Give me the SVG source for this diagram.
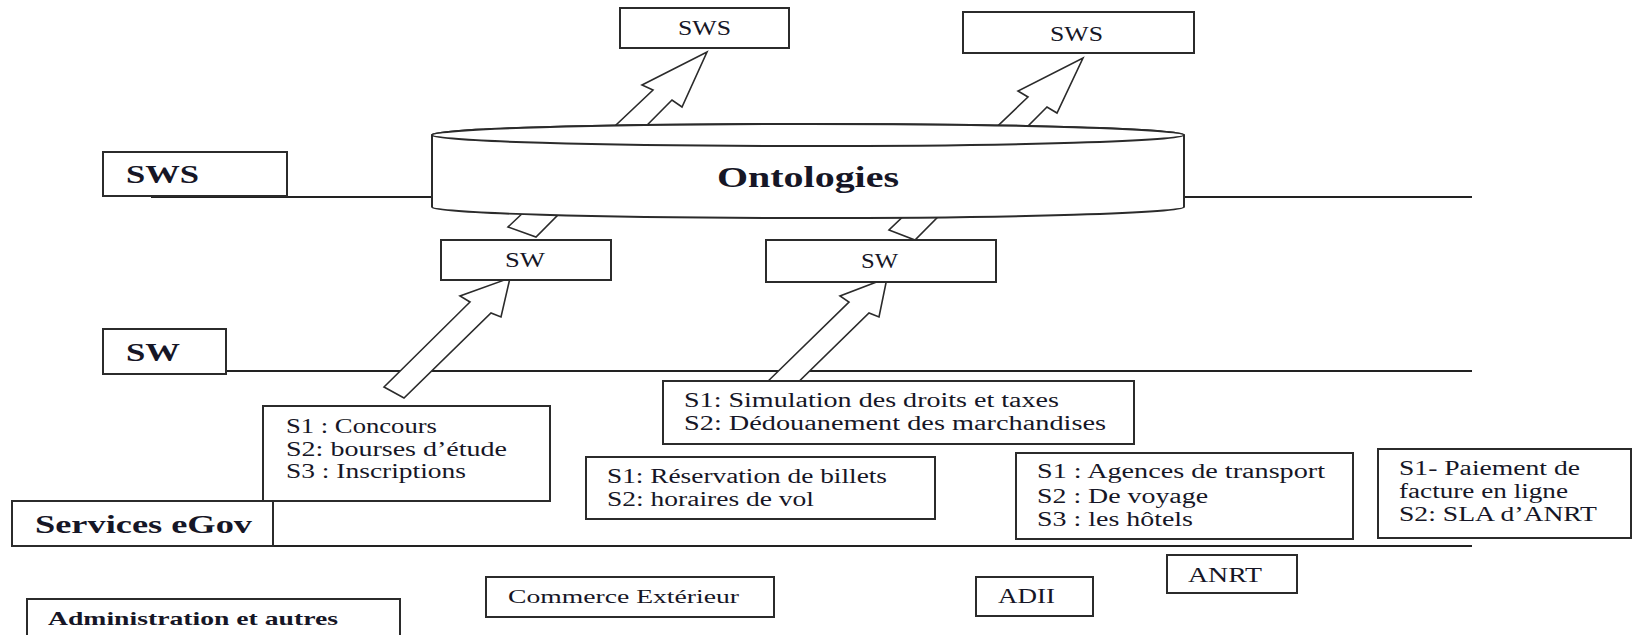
<svg xmlns="http://www.w3.org/2000/svg" width="1632" height="635" viewBox="0 0 1632 635">
  <style>
    .box { fill: #ffffff; stroke: #2b2b2b; stroke-width: 2; }
    .layer { stroke: #222222; stroke-width: 2; fill: none; }
    .arrow { fill: #ffffff; stroke: #2b2b2b; stroke-width: 1.6; stroke-linejoin: miter; }
    .cyl { fill: #ffffff; stroke: #2b2b2b; stroke-width: 2; }
    text { font-family: "Liberation Serif", "Times New Roman", serif; fill: #161626; }
    .t { font-size: 20.5px; }
    .b { font-weight: bold; }
  </style>

  <!-- horizontal layer separators -->
  <g id="layers">
    <line class="layer" x1="151" y1="197" x2="1472" y2="197"/>
    <line class="layer" x1="226" y1="371" x2="1472" y2="371"/>
    <line class="layer" x1="273" y1="546" x2="1472" y2="546"/>
  </g>

  <!-- block arrows -->
  <g id="connectors">
    <polygon id="a-sw1-sws1" class="arrow" points="508,227 536,237 672,100 682,107 707,52 642,85 653,90"/>
    <polygon id="a-sw2-sws2" class="arrow" points="889,230 915,240 1047,107 1057,113 1083,58 1018,91 1028,97"/>
    <polygon id="a-edu-sw1" class="arrow" points="384,387 404,398 491,313 501,317 510,278 460,296 470,302"/>
    <polygon id="a-douane-sw2" class="arrow" points="762,387 782,398 869,313 879,317 887,278 840,296 849,302"/>
  </g>

  <!-- ontology store -->
  <g id="ontologies">
    <path class="cyl" d="M432,135 L432,207 A376,11 0 0 0 1184,207 L1184,135 A376,11 0 0 0 432,135 Z"/>
    <ellipse class="cyl" cx="808" cy="135" rx="376" ry="11"/>
    <text x="717" y="187" font-size="29" class="b" textLength="182" lengthAdjust="spacingAndGlyphs">Ontologies</text>
  </g>

  <!-- layer labels -->
  <g id="label-sws">
    <rect class="box" x="103" y="152" width="184" height="44"/>
    <text x="126" y="183" font-size="25" class="b" textLength="73" lengthAdjust="spacingAndGlyphs">SWS</text>
  </g>
  <g id="label-sw">
    <rect class="box" x="103" y="329" width="123" height="45"/>
    <text x="126" y="361" font-size="25" class="b" textLength="54" lengthAdjust="spacingAndGlyphs">SW</text>
  </g>
  <g id="label-egov">
    <rect class="box" x="12" y="501" width="261" height="45"/>
    <text x="35" y="533" font-size="26" class="b" textLength="217" lengthAdjust="spacingAndGlyphs">Services eGov</text>
  </g>
  <g id="label-admin">
    <rect class="box" x="27" y="599" width="373" height="45"/>
    <text x="48" y="625" font-size="19" class="b" textLength="290" lengthAdjust="spacingAndGlyphs">Administration et autres</text>
  </g>

  <!-- semantic web services -->
  <g id="sws-1">
    <rect class="box" x="620" y="8" width="169" height="40"/>
    <text x="678" y="35" class="t" textLength="53" lengthAdjust="spacingAndGlyphs">SWS</text>
  </g>
  <g id="sws-2">
    <rect class="box" x="963" y="12" width="231" height="41"/>
    <text x="1050" y="41" class="t" textLength="53" lengthAdjust="spacingAndGlyphs">SWS</text>
  </g>

  <!-- web services -->
  <g id="sw-1">
    <rect class="box" x="441" y="240" width="170" height="40"/>
    <text x="505" y="267" class="t" textLength="40" lengthAdjust="spacingAndGlyphs">SW</text>
  </g>
  <g id="sw-2">
    <rect class="box" x="766" y="240" width="230" height="42"/>
    <text x="861" y="268" class="t" textLength="37" lengthAdjust="spacingAndGlyphs">SW</text>
  </g>

  <!-- eGov services -->
  <g id="svc-education">
    <rect class="box" x="263" y="406" width="287" height="95"/>
    <text x="286" y="433" class="t" textLength="151" lengthAdjust="spacingAndGlyphs">S1 : Concours</text>
    <text x="286" y="456" class="t" textLength="221" lengthAdjust="spacingAndGlyphs">S2: bourses d’étude</text>
    <text x="286" y="478" class="t" textLength="180" lengthAdjust="spacingAndGlyphs">S3 : Inscriptions</text>
  </g>
  <g id="svc-douane">
    <rect class="box" x="663" y="381" width="471" height="63"/>
    <text x="684" y="407" class="t" textLength="375" lengthAdjust="spacingAndGlyphs">S1: Simulation des droits et taxes</text>
    <text x="684" y="430" class="t" textLength="422" lengthAdjust="spacingAndGlyphs">S2: Dédouanement des marchandises</text>
  </g>
  <g id="svc-vols">
    <rect class="box" x="586" y="457" width="349" height="62"/>
    <text x="607" y="483" class="t" textLength="280" lengthAdjust="spacingAndGlyphs">S1: Réservation de billets</text>
    <text x="607" y="506" class="t" textLength="207" lengthAdjust="spacingAndGlyphs">S2: horaires de vol</text>
  </g>
  <g id="svc-tourisme">
    <rect class="box" x="1016" y="453" width="337" height="86"/>
    <text x="1037" y="478" class="t" textLength="288" lengthAdjust="spacingAndGlyphs">S1 : Agences de transport</text>
    <text x="1037" y="503" class="t" textLength="171" lengthAdjust="spacingAndGlyphs">S2 : De voyage</text>
    <text x="1037" y="526" class="t" textLength="156" lengthAdjust="spacingAndGlyphs">S3 : les hôtels</text>
  </g>
  <g id="svc-anrt">
    <rect class="box" x="1378" y="449" width="253" height="89"/>
    <text x="1399" y="475" class="t" textLength="181" lengthAdjust="spacingAndGlyphs">S1- Paiement de</text>
    <text x="1399" y="498" class="t" textLength="169" lengthAdjust="spacingAndGlyphs">facture en ligne</text>
    <text x="1399" y="521" class="t" textLength="198" lengthAdjust="spacingAndGlyphs">S2: SLA d’ANRT</text>
  </g>

  <!-- administrations -->
  <g id="adm-commerce">
    <rect class="box" x="486" y="577" width="288" height="40"/>
    <text x="508" y="603" font-size="19" textLength="231" lengthAdjust="spacingAndGlyphs">Commerce Extérieur</text>
  </g>
  <g id="adm-adii">
    <rect class="box" x="976" y="577" width="117" height="39"/>
    <text x="998" y="603" font-size="21" textLength="57" lengthAdjust="spacingAndGlyphs">ADII</text>
  </g>
  <g id="adm-anrt">
    <rect class="box" x="1167" y="555" width="130" height="38"/>
    <text x="1188" y="582" font-size="21" textLength="74" lengthAdjust="spacingAndGlyphs">ANRT</text>
  </g>
</svg>
